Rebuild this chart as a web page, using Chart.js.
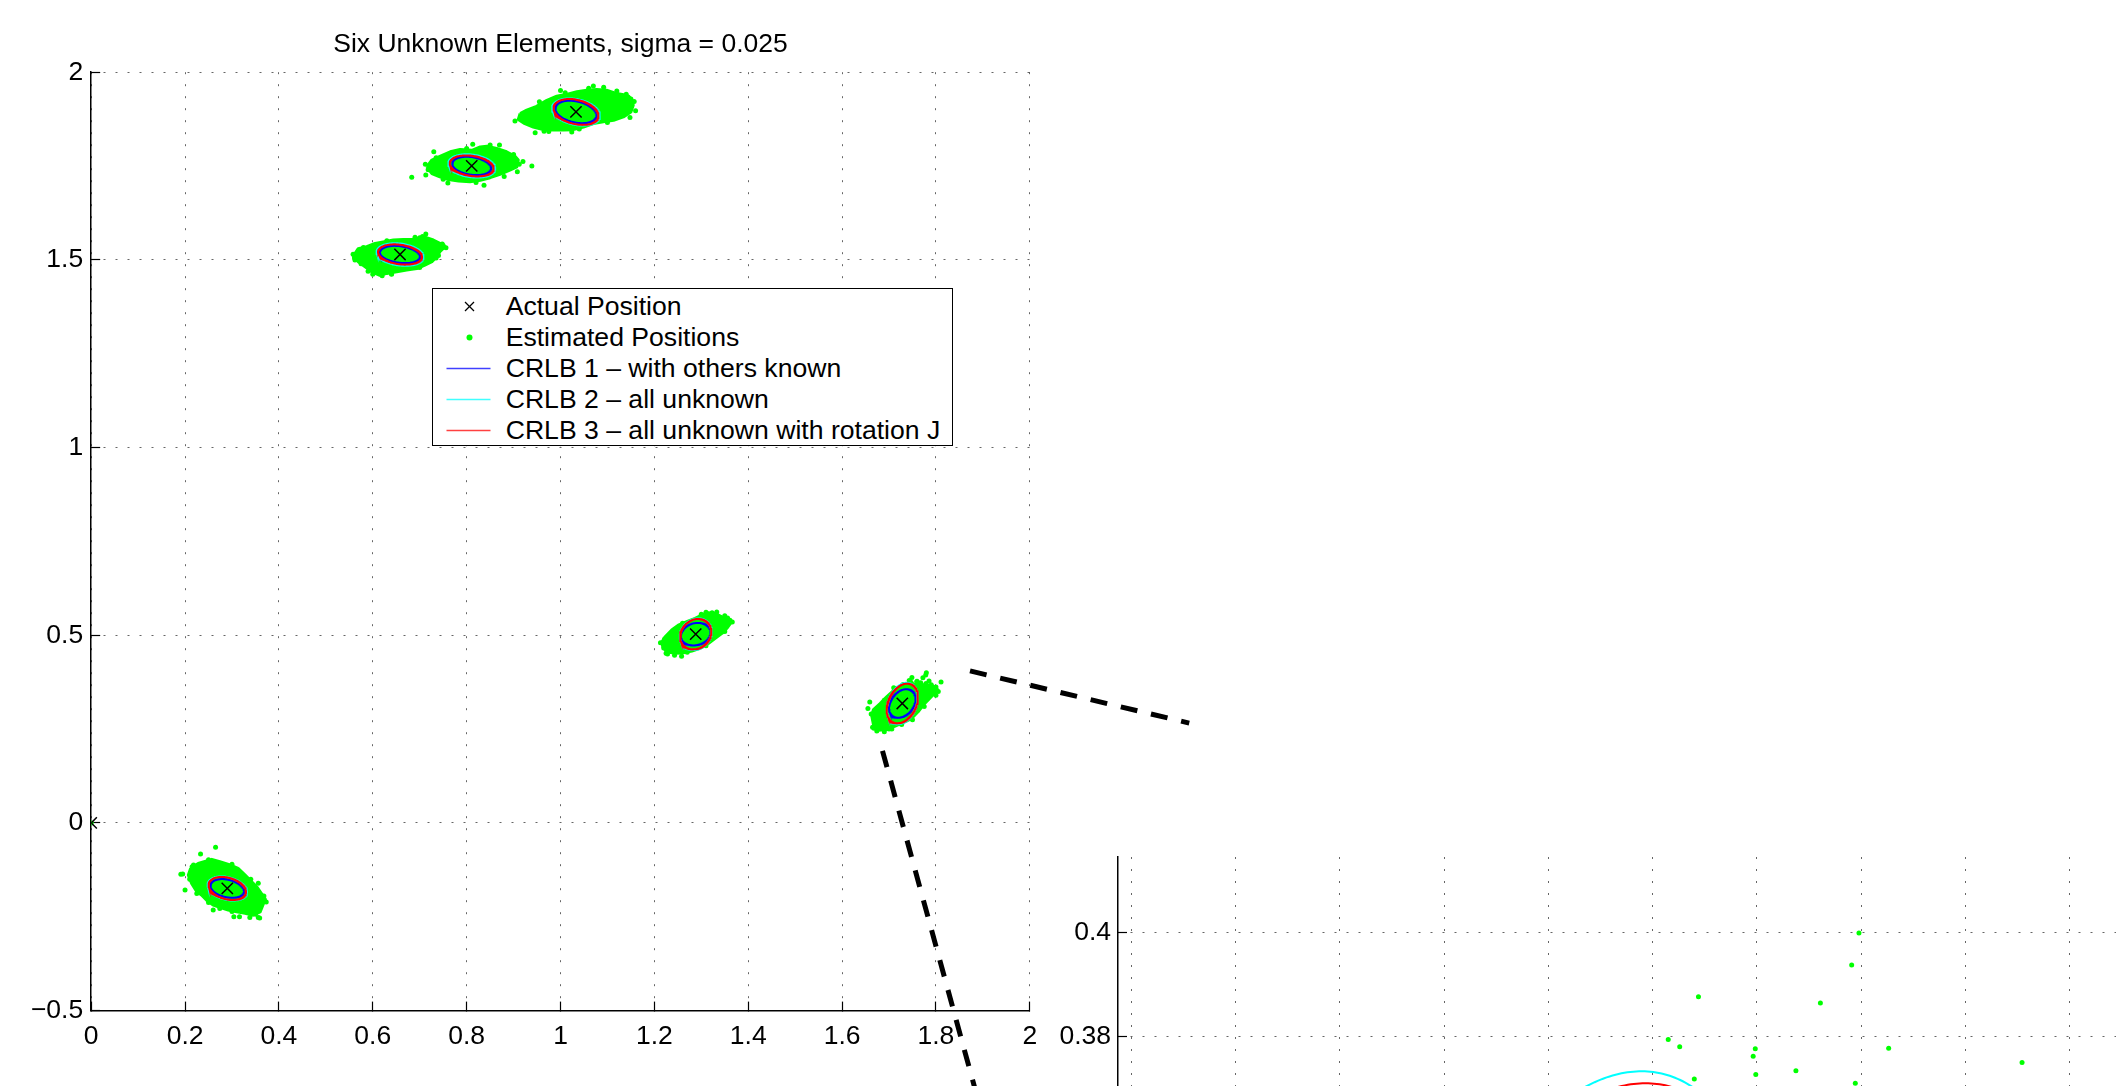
<!DOCTYPE html>
<html>
<head>
<meta charset="utf-8">
<title>Six Unknown Elements, sigma = 0.025</title>
<script src="https://cdn.jsdelivr.net/npm/chart.js@4.4.1/dist/chart.umd.min.js"></script>
<style>
  html, body { margin:0; padding:0; width:2116px; height:1086px; overflow:hidden; background:#ffffff; }
  canvas { position:absolute; display:block; }
  #mainChart { left:0; top:0; }
  #insetChart { left:1030px; top:800px; }
  #legend { position:absolute; left:432px; top:288px; width:521px; height:158px; box-sizing:border-box;
            border:1.5px solid #000; background:#fff;
            font-family:'Liberation Sans', Arial, Helvetica, sans-serif; font-size:26.6px; color:#000; }
  #legend .item { position:absolute; left:0; width:100%; height:30px; }
  #legend .label { position:absolute; left:72.7px; top:0; line-height:30px; white-space:nowrap; }
  #legend svg { position:absolute; left:0; top:0; }
</style>
</head>
<body>
<canvas id="mainChart" width="2116" height="1086"></canvas>
<canvas id="insetChart" width="1340" height="600"></canvas>
<div id="legend"></div>
<script>
// ---------------- text ----------------
const titleText = 'Six Unknown Elements, sigma = 0.025';
const legendLabels = ['Actual Position', 'Estimated Positions', 'CRLB 1 \u2013 with others known',
                      'CRLB 2 \u2013 all unknown', 'CRLB 3 \u2013 all unknown with rotation J'];

// ---------------- ticks ----------------
const xTicks = [0, 0.2, 0.4, 0.6, 0.8, 1, 1.2, 1.4, 1.6, 1.8, 2];
const xTickLabels = ['0', '0.2', '0.4', '0.6', '0.8', '1', '1.2', '1.4', '1.6', '1.8', '2'];
const yTicks = [-0.5, 0, 0.5, 1, 1.5, 2];
const yTickLabels = ['\u22120.5', '0', '0.5', '1', '1.5', '2'];
const insetXTicks = [1.64, 1.66, 1.68, 1.70, 1.72, 1.74, 1.76, 1.78, 1.80, 1.82, 1.84, 1.86];
const insetXTickLabels = ['1.64', '1.66', '1.68', '1.7', '1.72', '1.74', '1.76', '1.78', '1.8', '1.82', '1.84', '1.86'];
const insetYTicks = [0.32, 0.34, 0.36, 0.38, 0.40];
const insetYTickLabels = ['0.32', '0.34', '0.36', '0.38', '0.4'];

// ---------------- actual positions (anchor at origin + six unknown elements) ----------------
const actualX = [0, 0.290, 0.658, 0.8108, 1.033, 1.2881, 1.7283];
const actualY = [0, -0.1745, 1.5144, 1.7504, 1.8942, 0.5029, 0.3183];

// ---------------- CRLB ellipses: x-extent, y-extent, correlation (elements 1..6) ----------------
const crlb1SX = [0.036, 0.043, 0.0416, 0.044, 0.032, 0.0284];
const crlb1SY = [0.025, 0.023, 0.0245, 0.030, 0.030, 0.038];
const crlb1R  = [-0.30, -0.25, -0.25, -0.30, 0.15, 0.30];
const crlb2SX = [0.042, 0.050, 0.050, 0.051, 0.034, 0.033];
const crlb2SY = [0.032, 0.030, 0.031, 0.036, 0.042, 0.0551];
const crlb2R  = [-0.30, -0.22, -0.22, -0.28, 0.15, 0.29];
const crlb3SX = [0.040, 0.047, 0.0469, 0.048, 0.0334, 0.0334];
const crlb3SY = [0.0307, 0.027, 0.028, 0.0345, 0.0405, 0.0528];
const crlb3R  = [-0.30, -0.25, -0.25, -0.30, 0.15, 0.31];

// ---------------- estimated positions: dense core outline of each cloud ----------------
const dense1 = [[0.212,-0.121],[0.228,-0.108],[0.246,-0.101],[0.257,-0.097],[0.274,-0.103],[0.296,-0.112],[0.313,-0.121],[0.328,-0.139],[0.342,-0.157],[0.354,-0.172],[0.365,-0.192],[0.370,-0.206],[0.360,-0.237],[0.345,-0.246],[0.328,-0.241],[0.310,-0.237],[0.292,-0.232],[0.274,-0.225],[0.260,-0.219],[0.246,-0.206],[0.235,-0.192],[0.225,-0.183],[0.214,-0.161],[0.207,-0.139],[0.212,-0.121]];
const dense2 = [[0.562,1.517],[0.569,1.530],[0.587,1.535],[0.605,1.544],[0.622,1.548],[0.644,1.553],[0.665,1.554],[0.686,1.554],[0.708,1.562],[0.729,1.553],[0.743,1.544],[0.754,1.535],[0.743,1.522],[0.736,1.508],[0.726,1.495],[0.711,1.486],[0.694,1.477],[0.672,1.473],[0.651,1.468],[0.630,1.464],[0.615,1.459],[0.598,1.468],[0.583,1.482],[0.569,1.495],[0.559,1.508],[0.562,1.517]];
const dense3 = [[0.715,1.748],[0.726,1.766],[0.743,1.776],[0.765,1.788],[0.786,1.794],[0.811,1.792],[0.829,1.801],[0.843,1.803],[0.864,1.797],[0.885,1.788],[0.903,1.776],[0.910,1.766],[0.907,1.748],[0.892,1.739],[0.871,1.728],[0.850,1.719],[0.829,1.712],[0.807,1.708],[0.783,1.710],[0.761,1.714],[0.743,1.721],[0.726,1.730],[0.715,1.748]];
const dense4 = [[0.914,1.890],[0.928,1.899],[0.949,1.909],[0.971,1.925],[0.992,1.936],[1.013,1.941],[1.035,1.948],[1.056,1.952],[1.077,1.954],[1.098,1.952],[1.120,1.943],[1.137,1.939],[1.152,1.930],[1.155,1.912],[1.150,1.894],[1.134,1.881],[1.113,1.872],[1.091,1.868],[1.070,1.863],[1.049,1.854],[1.027,1.847],[1.006,1.846],[0.985,1.846],[0.963,1.847],[0.942,1.854],[0.924,1.863],[0.910,1.874],[0.914,1.890]];
const dense5 = [[1.216,0.482],[1.223,0.496],[1.237,0.514],[1.251,0.527],[1.269,0.536],[1.287,0.545],[1.301,0.554],[1.315,0.560],[1.329,0.558],[1.344,0.549],[1.358,0.542],[1.363,0.533],[1.356,0.521],[1.344,0.505],[1.329,0.491],[1.315,0.478],[1.297,0.465],[1.280,0.458],[1.262,0.453],[1.244,0.452],[1.226,0.456],[1.218,0.469],[1.216,0.482]];
const dense6 = [[1.663,0.287],[1.667,0.302],[1.681,0.318],[1.695,0.336],[1.709,0.352],[1.722,0.362],[1.738,0.368],[1.756,0.369],[1.776,0.368],[1.794,0.365],[1.803,0.356],[1.798,0.347],[1.787,0.332],[1.773,0.314],[1.762,0.296],[1.748,0.278],[1.730,0.267],[1.713,0.258],[1.695,0.249],[1.677,0.247],[1.667,0.261],[1.663,0.287]];

// ---------------- estimated positions: individual (sparse) points ----------------
const est0 = [[0, 0]];
const est1 = [[0.265,-0.065],[0.233,-0.083],[0.218,-0.112],[0.195,-0.136],[0.211,-0.148],[0.200,-0.179],[0.225,-0.188],[0.260,-0.232],[0.274,-0.228],[0.304,-0.250],[0.316,-0.250],[0.338,-0.252],[0.356,-0.252],[0.356,-0.161],[0.369,-0.204],[0.373,-0.211],[0.191,-0.137],[0.359,-0.253],
              [0.215,-0.117],[0.250,-0.098],[0.300,-0.110],[0.340,-0.150],[0.368,-0.195],[0.350,-0.243],[0.300,-0.236],[0.250,-0.212],[0.210,-0.150]];
const est2 = [[0.713,1.569],[0.706,1.562],[0.750,1.538],[0.756,1.532],[0.561,1.505],[0.558,1.515],[0.620,1.458],[0.600,1.462],[0.640,1.462],[0.735,1.505],[0.575,1.490],[0.690,1.560],
              [0.580,1.533],[0.630,1.551],[0.700,1.559],[0.748,1.542],[0.740,1.512],[0.700,1.480],[0.640,1.463],[0.590,1.470],[0.562,1.500]];
const est3 = [[0.683,1.720],[0.939,1.750],[0.730,1.788],[0.813,1.808],[0.837,1.699],[0.713,1.726],[0.908,1.735],[0.920,1.762],[0.760,1.705],[0.870,1.806],[0.712,1.755],
              [0.735,1.772],[0.800,1.797],[0.850,1.806],[0.900,1.781],[0.912,1.755],[0.880,1.722],[0.820,1.706],[0.750,1.715],[0.718,1.740]];
const est4 = [[0.903,1.870],[0.946,1.839],[0.965,1.843],[1.024,1.841],[1.144,1.934],[1.148,1.879],[1.160,1.897],[1.070,1.963],[1.092,1.960],[1.120,1.950],[0.930,1.882],[1.000,1.951],
              [0.955,1.921],[1.010,1.945],[1.060,1.957],[1.140,1.941],[1.157,1.922],[1.100,1.866],[1.040,1.849],[0.975,1.842],[0.918,1.880]];
const est5 = [[1.258,0.444],[1.228,0.450],[1.213,0.480],[1.361,0.540],[1.366,0.535],[1.323,0.560],[1.333,0.562],[1.300,0.556],[1.243,0.447],[1.220,0.466],[1.350,0.552],[1.347,0.518],
              [1.222,0.490],[1.260,0.532],[1.310,0.561],[1.356,0.546],[1.350,0.510],[1.310,0.472],[1.270,0.455],[1.225,0.452]];
const est6 = [[1.7796,0.3999],[1.7782,0.3938],[1.7488,0.3877],[1.7722,0.3865],[1.7430,0.3795],[1.7452,0.3781],[1.7597,0.3777],[1.7593,0.3763],[1.7853,0.3778],[1.8109,0.3751],[1.7675,0.3735],[1.7598,0.3728],[1.7480,0.3719],[1.7789,0.3711],[1.674,0.245],[1.659,0.322],[1.662,0.290],[1.668,0.252],[1.690,0.243],[1.706,0.250],[1.805,0.350],[1.800,0.362],[1.655,0.305],[1.727,0.262],[1.790,0.368],[1.730,0.369],[1.710,0.360],
              [1.668,0.275],[1.690,0.327],[1.715,0.357],[1.800,0.340],[1.775,0.310],[1.750,0.275],[1.700,0.250],[1.665,0.255]];

// ---------------- zoom pointer lines (main-axes coordinates) ----------------
const pointerLine1 = [[1.8726, 0.405], [2.3397, 0.2659]];
const pointerLine2 = [[1.6861, 0.1921], [1.8899, -0.7387]];

// =====================================================================
const FONT = "'Liberation Sans', Arial, Helvetica, sans-serif";
const FS = 26.5;
const GREEN = '#00ff00', BLUE = '#0000ff', CYAN = '#00ffff', RED = '#ff0000';
const GRID = 'rgba(0,0,0,0.6)';
Chart.defaults.font.family = FONT;
Chart.defaults.font.size = FS;
Chart.defaults.color = '#000';

const toPts = arr => arr.map(p => ({x: p[0], y: p[1]}));
function ellipsePoints(cx, cy, sx, sy, r, n) {
  const k = Math.sqrt(1 - r * r), pts = [];
  for (let i = 0; i <= n; i++) {
    const t = 2 * Math.PI * i / n;
    pts.push({x: cx + sx * Math.cos(t), y: cy + sy * (r * Math.cos(t) + k * Math.sin(t))});
  }
  return pts;
}
function ellipseSet(idx, SX, SY, R, color) {
  return {
    type: 'line', data: ellipsePoints(actualX[idx + 1], actualY[idx + 1], SX[idx], SY[idx], R[idx], 360),
    borderColor: color, borderWidth: 2, pointRadius: 0, fill: false, tension: 0
  };
}
function denseSet(arr) {
  return { type: 'line', data: toPts(arr), borderColor: GREEN, backgroundColor: GREEN, borderWidth: 3,
           borderJoinStyle: 'round', pointRadius: 0, fill: 'shape', tension: 0 };
}
function dotSet(arr) {
  return { type: 'scatter', data: toPts(arr), pointRadius: 2.5, pointBackgroundColor: GREEN,
           pointBorderWidth: 0, pointBorderColor: GREEN, showLine: false };
}
function crossSet(xs, ys) {
  return { type: 'scatter', data: xs.map((x, i) => ({x: x, y: ys[i]})), pointStyle: 'crossRot',
           pointRadius: 8, pointBorderColor: '#000', pointBorderWidth: 1.5, showLine: false };
}
function pointerSet(arr) {
  return { type: 'line', data: toPts(arr), borderColor: '#000', borderWidth: 5, borderDash: [17, 14],
           borderCapStyle: 'butt', pointRadius: 0, fill: false, clip: false };
}
const denseAll = [dense1, dense2, dense3, dense4, dense5, dense6];
const estAll = [].concat(est0, est1, est2, est3, est4, est5, est6);

function scaleCommon(ticksArr, labelsArr, padding, fitFn) {
  return {
    type: 'linear',
    afterBuildTicks: s => { s.ticks = ticksArr.map(v => ({value: v})); },
    afterFit: fitFn,
    ticks: { autoSkip: false, maxRotation: 0, padding: padding, color: '#000',
             font: {family: FONT, size: FS}, callback: (v, i) => labelsArr[i] },
    grid: { display: true, color: GRID, lineWidth: 1, drawTicks: true, tickLength: -9,
            tickColor: '#000', tickWidth: 1.2, drawOnChartArea: true },
    border: { display: true, color: '#000', width: 1.5, dash: [2, 10] }
  };
}

// ---------------- main chart ----------------
const mainDatasets = [
  pointerSet(pointerLine1), pointerSet(pointerLine2),
  crossSet(actualX, actualY)
];
for (let i = 0; i < 6; i++) mainDatasets.push(ellipseSet(i, crlb3SX, crlb3SY, crlb3R, RED));
for (let i = 0; i < 6; i++) mainDatasets.push(ellipseSet(i, crlb2SX, crlb2SY, crlb2R, CYAN));
for (let i = 0; i < 6; i++) mainDatasets.push(ellipseSet(i, crlb1SX, crlb1SY, crlb1R, BLUE));
mainDatasets.push(dotSet(estAll));
denseAll.forEach(d => mainDatasets.push(denseSet(d)));

const xMain = scaleCommon(xTicks, xTickLabels, 19, s => { s.height = 75.4; });
Object.assign(xMain, {position: 'bottom', min: 0, max: 2});
const yMain = scaleCommon(yTicks, yTickLabels, 17, s => { s.width = 91.2; });
Object.assign(yMain, {position: 'left', min: -0.5, max: 2});

new Chart(document.getElementById('mainChart'), {
  type: 'scatter',
  data: { datasets: mainDatasets },
  options: {
    responsive: false, animation: false, devicePixelRatio: 1,
    layout: { padding: { left: 0, right: 1086.2, top: 0, bottom: 0 } },
    plugins: {
      legend: { display: false }, tooltip: { enabled: false },
      title: { display: true, text: titleText, fullSize: false, color: '#000',
               font: { family: FONT, size: FS, weight: 'normal' }, padding: { top: 28.5, bottom: 11.9 } }
    },
    scales: { x: xMain, y: yMain }
  }
});

// ---------------- inset (zoom of element 6) ----------------
const insetDatasets = [crossSet([actualX[6]], [actualY[6]])];
insetDatasets.push(ellipseSet(5, crlb3SX, crlb3SY, crlb3R, RED));
insetDatasets.push(ellipseSet(5, crlb2SX, crlb2SY, crlb2R, CYAN));
insetDatasets.push(ellipseSet(5, crlb1SX, crlb1SY, crlb1R, BLUE));
insetDatasets.push(dotSet(est6));
insetDatasets.push(denseSet(dense6));

const xInset = scaleCommon(insetXTicks, insetXTickLabels, 19, s => { s.height = 50.3; });
Object.assign(xInset, {position: 'bottom', min: 1.6374, max: 1.87});
const yInset = scaleCommon(insetYTicks, insetYTickLabels, 16, s => { s.width = 88; });
Object.assign(yInset, {position: 'left', min: 0.32, max: 0.4145});

new Chart(document.getElementById('insetChart'), {
  type: 'scatter',
  data: { datasets: insetDatasets },
  options: {
    responsive: false, animation: false, devicePixelRatio: 1,
    layout: { padding: { left: 0, right: 40, top: 57, bottom: 0 } },
    plugins: { legend: { display: false }, tooltip: { enabled: false }, title: { display: false } },
    scales: { x: xInset, y: yInset }
  }
});

// ---------------- legend ----------------
const legendSymbols = ['cross', 'dot', 'line', 'line', 'line'];
const legendColors = ['#000', GREEN, BLUE, CYAN, RED];
const legendTops = [2.2, 33.2, 64.2, 95.2, 126.2];
const legendEl = document.getElementById('legend');
const SVGNS = 'http://www.w3.org/2000/svg';
legendLabels.forEach((txt, i) => {
  const item = document.createElement('div');
  item.className = 'item';
  item.style.top = legendTops[i] + 'px';
  const svg = document.createElementNS(SVGNS, 'svg');
  svg.setAttribute('width', '72'); svg.setAttribute('height', '30');
  if (legendSymbols[i] === 'cross') {
    [[32, 11, 41, 20], [41, 11, 32, 20]].forEach(c => {
      const l = document.createElementNS(SVGNS, 'line');
      l.setAttribute('x1', c[0]); l.setAttribute('y1', c[1]); l.setAttribute('x2', c[2]); l.setAttribute('y2', c[3]);
      l.setAttribute('stroke', legendColors[i]); l.setAttribute('stroke-width', '1.3');
      svg.appendChild(l);
    });
  } else if (legendSymbols[i] === 'dot') {
    const c = document.createElementNS(SVGNS, 'circle');
    c.setAttribute('cx', '36.5'); c.setAttribute('cy', '15.5'); c.setAttribute('r', '3');
    c.setAttribute('fill', legendColors[i]);
    svg.appendChild(c);
  } else {
    const l = document.createElementNS(SVGNS, 'line');
    l.setAttribute('x1', '13.5'); l.setAttribute('y1', '15.5'); l.setAttribute('x2', '57.5'); l.setAttribute('y2', '15.5');
    l.setAttribute('stroke', legendColors[i]); l.setAttribute('stroke-width', '1.5'); l.setAttribute('stroke-opacity', '0.75');
    svg.appendChild(l);
  }
  item.appendChild(svg);
  const lab = document.createElement('span');
  lab.className = 'label';
  lab.textContent = txt;
  item.appendChild(lab);
  legendEl.appendChild(item);
});
</script>
</body>
</html>
